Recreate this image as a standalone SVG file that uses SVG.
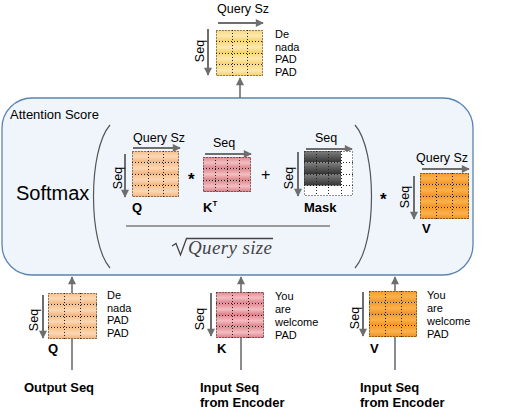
<svg xmlns="http://www.w3.org/2000/svg" width="508" height="417" viewBox="0 0 508 417">
<style>
.t{font-family:"Liberation Sans",Arial,sans-serif;fill:#000}
.lbl{font-size:11px}
.dim{font-size:12.5px}
.b{font-size:13px;font-weight:bold}
.grid{fill:none;stroke:#222;stroke-width:1;stroke-dasharray:1 2}
.ar{stroke:#6e6e6e;stroke-width:2;fill:none;marker-end:url(#ah)}
.conn{stroke:#666;stroke-width:1.5;fill:none;marker-end:url(#ah)}
.paren{fill:none;stroke:#555;stroke-width:1.2}
.y{fill:url(#gy)}.o{fill:url(#go)}.k{fill:url(#gk)}.v{fill:url(#gv)}.m{fill:url(#gm)}
</style>
<defs>
<linearGradient id="gy" x1="0" y1="0" x2="0" y2="1"><stop offset="0" stop-color="#f9d77a"/><stop offset="0.5" stop-color="#fde9b0"/><stop offset="1" stop-color="#f7cf6a"/></linearGradient>
<linearGradient id="go" x1="0" y1="0" x2="0" y2="1"><stop offset="0" stop-color="#f6bf88"/><stop offset="0.5" stop-color="#fbd8b6"/><stop offset="1" stop-color="#f3b178"/></linearGradient>
<linearGradient id="gk" x1="0" y1="0" x2="0" y2="1"><stop offset="0" stop-color="#e0868e"/><stop offset="0.5" stop-color="#f2bfc2"/><stop offset="1" stop-color="#dc7c85"/></linearGradient>
<linearGradient id="gv" x1="0" y1="0" x2="0" y2="1"><stop offset="0" stop-color="#f59a2a"/><stop offset="0.5" stop-color="#fbb24c"/><stop offset="1" stop-color="#f29020"/></linearGradient>
<linearGradient id="gm" x1="0" y1="0" x2="0" y2="1"><stop offset="0" stop-color="#808080"/><stop offset="1" stop-color="#333"/></linearGradient>
<marker id="ah" viewBox="0 0 10 10" refX="9" refY="5" markerWidth="9" markerHeight="8" markerUnits="userSpaceOnUse" orient="auto"><path d="M0,0 L10,5 L0,10 z" fill="#6e6e6e"/></marker>
</defs>

<!-- Attention score container -->
<g id="attention-score">
<rect x="2" y="98" width="471" height="177" rx="30" ry="30" fill="#f0f5fc" stroke="#5a84b3" stroke-width="1.3"/>
<text class="t" x="10" y="119" font-size="13">Attention Score</text>
<text class="t" x="16" y="200" font-size="20">Softmax</text>
<path class="paren" d="M110,125 C88,150 88,243 110,268"/>
<path class="paren" d="M355,125 C377,150 377,243 355,268"/>
<line x1="126" y1="226" x2="330" y2="226" stroke="#9a9a9a" stroke-width="2"/>
<path d="M172,246 L176,243.5 L180.5,255 L186.5,238.5 L273,238.5" fill="none" stroke="#444" stroke-width="1.3"/>
<text x="188" y="254" font-family="'Liberation Serif','Times New Roman',serif" font-style="italic" font-size="19" fill="#444" textLength="84">Query size</text>
<text class="t" x="188" y="185" font-size="17" font-weight="bold">*</text>
<text class="t" x="261" y="180" font-size="16">+</text>
<text class="t" x="380" y="205" font-size="17" font-weight="bold">*</text>
</g>

<!-- Connectors -->
<g id="connectors">
<line class="conn" x1="240" y1="98" x2="240" y2="78"/>
<line class="conn" x1="72" y1="370" x2="72" y2="277"/>
<line class="conn" x1="241" y1="370" x2="241" y2="277"/>
<line class="conn" x1="395" y1="370" x2="395" y2="277"/>
</g>

<!-- Output matrix (top) -->
<g id="output">
<text class="t dim" x="217" y="13">Query Sz</text>
<line class="ar" x1="218" y1="23" x2="263" y2="23"/>
<line class="ar" x1="208" y1="29" x2="208" y2="75" stroke-width="1.5"/>
<text class="t dim" transform="rotate(-90 204 51)" x="204" y="51" text-anchor="middle">Seq</text>
<g transform="translate(216,30)">
<rect class="y" x="0" y="0" width="47" height="11.5"/><rect class="y" x="0" y="11.5" width="47" height="11.5"/><rect class="y" x="0" y="23" width="47" height="11.5"/><rect class="y" x="0" y="34.5" width="47" height="11.5"/>
<path class="grid" d="M0.5,0.5H46.5V45.5H0.5Z M0,11.5H47 M0,23.5H47 M0,34.5H47 M16.5,0V46 M31.5,0V46"/>
</g>
<text class="t lbl" x="275" y="38">De</text>
<text class="t lbl" x="275" y="50.5">nada</text>
<text class="t lbl" x="275" y="63">PAD</text>
<text class="t lbl" x="275" y="75.5">PAD</text>
</g>

<!-- Q inner -->
<g id="q-inner">
<text class="t dim" x="133" y="142">Query Sz</text>
<line class="ar" x1="133" y1="148" x2="180" y2="148"/>
<line class="ar" x1="125" y1="154" x2="125" y2="197" stroke-width="1.5"/>
<text class="t dim" transform="rotate(-90 122 178)" x="122" y="178" text-anchor="middle">Seq</text>
<g transform="translate(132,151)">
<rect class="o" x="0" y="0" width="47" height="11.5"/><rect class="o" x="0" y="11.5" width="47" height="11.5"/><rect class="o" x="0" y="23" width="47" height="11.5"/><rect class="o" x="0" y="34.5" width="47" height="11.5"/>
<path class="grid" d="M0.5,0.5H46.5V45.5H0.5Z M0,11.5H47 M0,23.5H47 M0,34.5H47 M16.5,0V46 M31.5,0V46"/>
</g>
<text class="t b" x="132" y="212">Q</text>
</g>

<!-- K transposed -->
<g id="kt-inner">
<text class="t dim" x="213" y="147">Seq</text>
<line class="ar" x1="205" y1="154" x2="251" y2="154"/>
<g transform="translate(203,157)">
<rect class="k" x="0" y="0" width="48" height="11.7"/><rect class="k" x="0" y="11.7" width="48" height="11.6"/><rect class="k" x="0" y="23.3" width="48" height="11.7"/>
<path class="grid" d="M0.5,0.5H47.5V34.5H0.5Z M0,11.5H48 M0,23.5H48 M12.5,0V35 M24.5,0V35 M36.5,0V35"/>
</g>
<text class="t b" x="203" y="212">K<tspan font-size="8" dy="-6">T</tspan></text>
</g>

<!-- Mask -->
<g id="mask">
<text class="t dim" x="315" y="142">Seq</text>
<line class="ar" x1="306" y1="149" x2="352" y2="149"/>
<line class="ar" x1="298" y1="152" x2="298" y2="196" stroke-width="1.5"/>
<text class="t dim" transform="rotate(-90 293 178)" x="293" y="178" text-anchor="middle">Seq</text>
<g transform="translate(304,151)">
<rect x="0" y="0" width="49" height="45" fill="#fff"/>
<rect class="m" x="0" y="0" width="37" height="11.5"/><rect class="m" x="0" y="11.5" width="37" height="11.5"/><rect class="m" x="0" y="23" width="37" height="11.5"/>
<path class="grid" d="M0.5,0.5H48.5V44.5H0.5Z M0,11.5H49 M0,23.5H49 M0,34.5H49 M12.5,0V45 M24.5,0V45 M37.5,0V45"/>
</g>
<text class="t b" x="304" y="212">Mask</text>
</g>

<!-- V inner -->
<g id="v-inner">
<text class="t dim" x="416" y="162">Query Sz</text>
<line class="ar" x1="422" y1="169" x2="469" y2="169"/>
<line class="ar" x1="414" y1="176" x2="414" y2="219" stroke-width="1.5"/>
<text class="t dim" transform="rotate(-90 409 197)" x="409" y="197" text-anchor="middle">Seq</text>
<g transform="translate(420,173)">
<rect class="v" x="0" y="0" width="49" height="11.5"/><rect class="v" x="0" y="11.5" width="49" height="11.5"/><rect class="v" x="0" y="23" width="49" height="11.5"/><rect class="v" x="0" y="34.5" width="49" height="11.5"/>
<path class="grid" d="M0.5,0.5H48.5V45.5H0.5Z M0,11.5H49 M0,23.5H49 M0,34.5H49 M16.5,0V46 M32.5,0V46"/>
</g>
<text class="t b" x="422" y="233">V</text>
</g>

<!-- Q bottom -->
<g id="q-input">
<line class="ar" x1="43" y1="295" x2="43" y2="338" stroke-width="1.5"/>
<text class="t dim" transform="rotate(-90 38 320)" x="38" y="320" text-anchor="middle">Seq</text>
<g transform="translate(48,293)">
<rect class="o" x="0" y="0" width="49" height="11.5"/><rect class="o" x="0" y="11.5" width="49" height="11.5"/><rect class="o" x="0" y="23" width="49" height="11.5"/><rect class="o" x="0" y="34.5" width="49" height="11.5"/>
<path class="grid" d="M0.5,0.5H48.5V45.5H0.5Z M0,11.5H49 M0,23.5H49 M0,34.5H49 M16.5,0V46 M32.5,0V46"/>
</g>
<text class="t lbl" x="107" y="299">De</text>
<text class="t lbl" x="107" y="311.5">nada</text>
<text class="t lbl" x="107" y="324">PAD</text>
<text class="t lbl" x="107" y="336.5">PAD</text>
<text class="t b" x="48" y="353">Q</text>
<text class="t b" x="24" y="392">Output Seq</text>
</g>

<!-- K bottom -->
<g id="k-input">
<line class="ar" x1="211" y1="293" x2="211" y2="336" stroke-width="1.5"/>
<text class="t dim" transform="rotate(-90 204 319)" x="204" y="319" text-anchor="middle">Seq</text>
<g transform="translate(216,292)">
<rect class="k" x="0" y="0" width="48" height="11.5"/><rect class="k" x="0" y="11.5" width="48" height="11.5"/><rect class="k" x="0" y="23" width="48" height="11.5"/><rect class="k" x="0" y="34.5" width="48" height="11.5"/>
<path class="grid" d="M0.5,0.5H47.5V45.5H0.5Z M0,11.5H48 M0,23.5H48 M0,34.5H48 M16.5,0V46 M32.5,0V46"/>
</g>
<text class="t lbl" x="275" y="300">You</text>
<text class="t lbl" x="275" y="313">are</text>
<text class="t lbl" x="275" y="326">welcome</text>
<text class="t lbl" x="275" y="338.5">PAD</text>
<text class="t b" x="217" y="353">K</text>
<text class="t b" x="200" y="392">Input Seq</text>
<text class="t b" x="200" y="407">from Encoder</text>
</g>

<!-- V bottom -->
<g id="v-input">
<line class="ar" x1="363" y1="292" x2="363" y2="336" stroke-width="1.5"/>
<text class="t dim" transform="rotate(-90 359 318)" x="359" y="318" text-anchor="middle">Seq</text>
<g transform="translate(369,291)">
<rect class="v" x="0" y="0" width="48" height="11.5"/><rect class="v" x="0" y="11.5" width="48" height="11.5"/><rect class="v" x="0" y="23" width="48" height="11.5"/><rect class="v" x="0" y="34.5" width="48" height="11.5"/>
<path class="grid" d="M0.5,0.5H47.5V45.5H0.5Z M0,11.5H48 M0,23.5H48 M0,34.5H48 M16.5,0V46 M32.5,0V46"/>
</g>
<text class="t lbl" x="427" y="299">You</text>
<text class="t lbl" x="427" y="312">are</text>
<text class="t lbl" x="427" y="325">welcome</text>
<text class="t lbl" x="427" y="337.5">PAD</text>
<text class="t b" x="370" y="353">V</text>
<text class="t b" x="360" y="392">Input Seq</text>
<text class="t b" x="360" y="407">from Encoder</text>
</g>
</svg>
